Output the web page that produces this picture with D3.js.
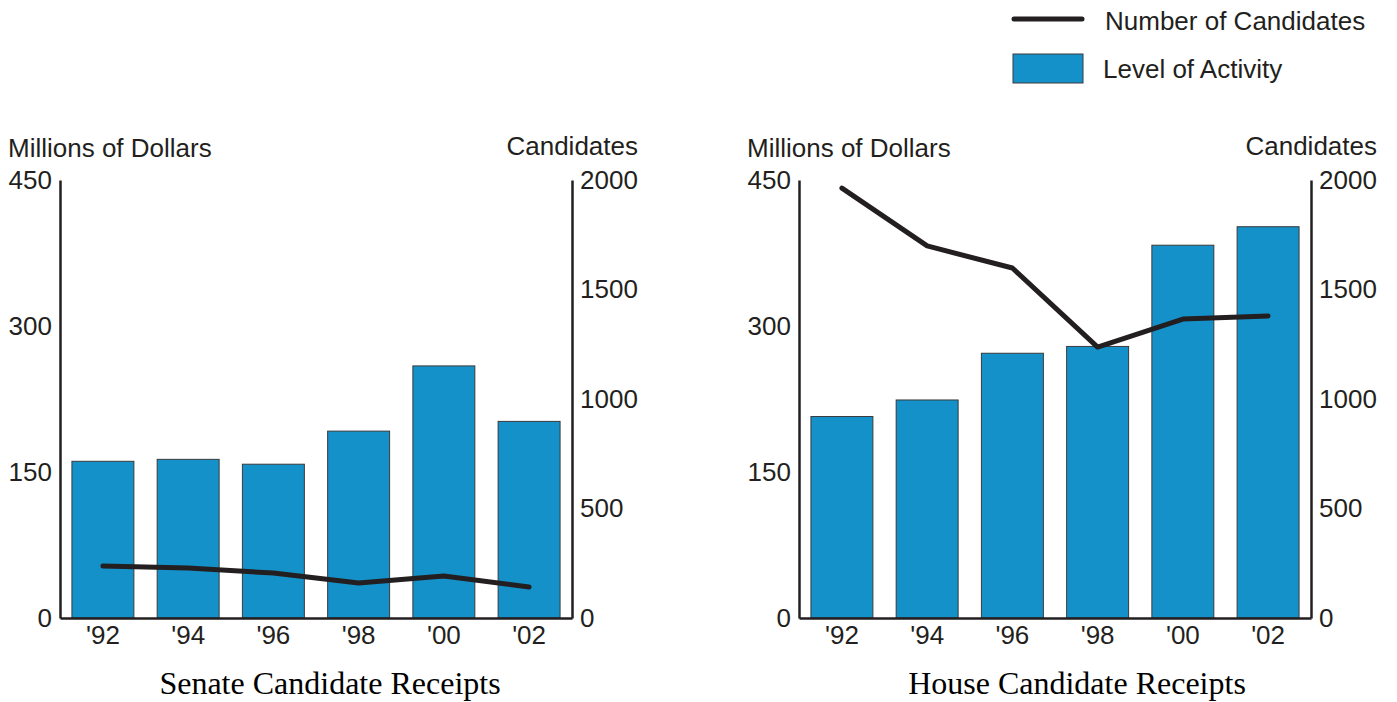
<!DOCTYPE html>
<html>
<head>
<meta charset="utf-8">
<script src="https://cdn.jsdelivr.net/npm/d3@7"></script>
<style>
  body { margin: 0; background: #fff; }
  svg { display: block; }
</style>
</head>
<body>
<svg id="chart" width="1397" height="702"></svg>
<script>
// data
var years = ["'92", "'94", "'96", "'98", "'00", "'02"];
var senateReceipts = [161, 163, 158, 192, 259, 202];
var senateCandidates = [237, 228, 205, 160, 192, 142];
var houseReceipts = [207, 224, 272, 279, 383, 402];
var houseCandidates = [1963, 1699, 1598, 1237, 1365, 1379];
var dollarTicks = [0, 150, 300, 450];
var candidateTicks = [0, 500, 1000, 1500, 2000];

var BLUE = "#1591c9";
var INK = "#231f20";
var SANS = "'Liberation Sans', Arial, sans-serif";
var SERIF = "'Liberation Serif', 'Times New Roman', serif";
var FS = 26;

var svg = d3.select("#chart");

function drawPanel(x0, title, titleX, receipts, candidates) {
  var left = x0, right = x0 + 512, top = 180, bottom = 618;
  var g = svg.append("g");

  var x = d3.scaleBand().domain(years).range([left, right])
    .paddingInner(0.273).paddingOuter(0.14);
  var yL = d3.scaleLinear().domain([0, 450]).range([bottom, top]);
  var yR = d3.scaleLinear().domain([0, 2000]).range([bottom, top]);

  // bars
  g.selectAll("rect.bar").data(receipts).enter().append("rect")
    .attr("class", "bar")
    .attr("x", (d, i) => x(years[i]))
    .attr("y", d => yL(d))
    .attr("width", x.bandwidth())
    .attr("height", d => yL(0) - yL(d))
    .attr("fill", BLUE)
    .attr("stroke", "#3a3a3a")
    .attr("stroke-width", 1);

  // axes (lines only, no tick marks)
  var axL = g.append("g").attr("transform", "translate(" + left + ",0)")
    .call(d3.axisLeft(yL).tickValues(dollarTicks).tickSize(0).tickPadding(8)
      .tickFormat(d3.format("d")));
  var axR = g.append("g").attr("transform", "translate(" + right + ",0)")
    .call(d3.axisRight(yR).tickValues(candidateTicks).tickSize(0).tickPadding(8)
      .tickFormat(d3.format("d")));
  var axB = g.append("g").attr("transform", "translate(0," + bottom + ")")
    .call(d3.axisBottom(x).tickSize(0).tickPadding(6));

  [axL, axR, axB].forEach(function(a) {
    a.select(".domain").attr("stroke", INK).attr("stroke-width", 2.5);
    a.selectAll("text").attr("font-family", SANS).attr("font-size", FS)
      .attr("fill", INK);
  });
  axB.selectAll("text").attr("dy", "0.75em");

  // candidates line
  g.append("path").datum(candidates)
    .attr("fill", "none")
    .attr("stroke", INK)
    .attr("stroke-width", 5)
    .attr("stroke-linecap", "round")
    .attr("stroke-linejoin", "round")
    .attr("d", d3.line()
      .x((d, i) => x(years[i]) + x.bandwidth() / 2)
      .y(d => yR(d)));

  // axis titles
  g.append("text").attr("x", left - 52).attr("y", 157)
    .attr("font-family", SANS).attr("font-size", FS).attr("fill", INK)
    .text("Millions of Dollars");
  g.append("text").attr("x", right + 66).attr("y", 155)
    .attr("text-anchor", "end")
    .attr("font-family", SANS).attr("font-size", FS).attr("fill", INK)
    .text("Candidates");

  // chart title
  g.append("text").attr("x", titleX).attr("y", 694)
    .attr("text-anchor", "middle")
    .attr("font-family", SERIF).attr("font-size", 32).attr("fill", "#000")
    .text(title);
}

drawPanel(60, "Senate Candidate Receipts", 330, senateReceipts, senateCandidates);
drawPanel(799, "House Candidate Receipts", 1077, houseReceipts, houseCandidates);

// legend
var legend = svg.append("g");
legend.append("line")
  .attr("x1", 1014).attr("x2", 1082).attr("y1", 19).attr("y2", 19)
  .attr("stroke", INK).attr("stroke-width", 5).attr("stroke-linecap", "round");
legend.append("text").attr("x", 1105).attr("y", 30)
  .attr("font-family", SANS).attr("font-size", FS).attr("fill", INK)
  .text("Number of Candidates");
legend.append("rect")
  .attr("x", 1013).attr("y", 54).attr("width", 70).attr("height", 29)
  .attr("fill", BLUE).attr("stroke", "#3a3a3a").attr("stroke-width", 1);
legend.append("text").attr("x", 1103).attr("y", 78)
  .attr("font-family", SANS).attr("font-size", FS).attr("fill", INK)
  .text("Level of Activity");
</script>
</body>
</html>
